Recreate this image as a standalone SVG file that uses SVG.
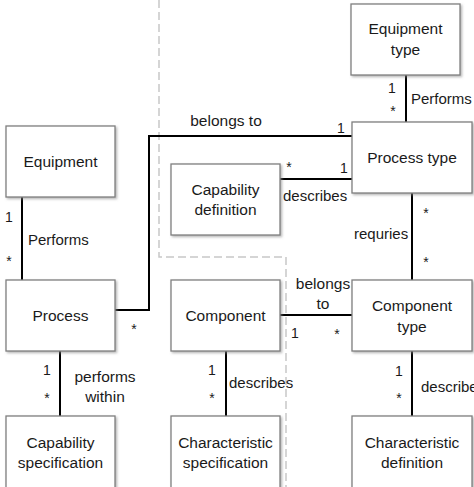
<svg xmlns="http://www.w3.org/2000/svg" width="474" height="487" viewBox="0 0 474 487">
<defs>
<filter id="sh" x="-10%" y="-10%" width="125%" height="125%">
<feDropShadow dx="1.5" dy="1.5" stdDeviation="0.8" flood-color="#888" flood-opacity="0.6"/>
</filter>
<style>
.box{fill:#fff;stroke:#7f7f7f;stroke-width:1.3;filter:url(#sh)}
.t{font-family:"Liberation Sans",Arial,sans-serif;font-size:15.5px;fill:#1a1a1a;text-anchor:middle}
.l{font-family:"Liberation Sans",Arial,sans-serif;font-size:15px;fill:#1a1a1a}
.m{font-family:"Liberation Sans",Arial,sans-serif;font-size:14px;fill:#1a1a1a;text-anchor:middle}
.c{fill:none;stroke:#000;stroke-width:2}
.d{fill:none;stroke:#c8c8c8;stroke-width:1.5;stroke-dasharray:8 4}
</style>
</defs>
<rect width="474" height="487" fill="#fff"/>
<polyline class="d" points="159,0 159,257 286,257 286,487"/>
<g id="connectors">
<line class="c" x1="22" y1="197" x2="22" y2="280"/>
<polyline class="c" points="115,310 149,310 149,136 352,136"/>
<line class="c" x1="280" y1="179" x2="352" y2="179"/>
<line class="c" x1="406" y1="75" x2="406" y2="122"/>
<line class="c" x1="412" y1="193" x2="412" y2="280"/>
<line class="c" x1="280" y1="315" x2="352" y2="315"/>
<line class="c" x1="60" y1="351" x2="60" y2="416"/>
<line class="c" x1="226" y1="351" x2="226" y2="416"/>
<line class="c" x1="412" y1="351" x2="412" y2="416"/>
<text class="l" x="28" y="245">Performs</text>
<text class="m" x="9" y="222">1</text>
<text class="m" x="9" y="266">*</text>
<text class="m" x="134" y="334">*</text>
<text class="t" x="226" y="126">belongs to</text>
<text class="m" x="341" y="133">1</text>
<text class="m" x="289" y="172">*</text>
<text class="m" x="344" y="173">1</text>
<text class="l" x="283" y="201">describes</text>
<text class="m" x="392" y="93">1</text>
<text class="m" x="393" y="116">*</text>
<text class="l" x="411" y="104">Performs</text>
<text class="m" x="426" y="218">*</text>
<text class="l" x="354" y="239">requries</text>
<text class="m" x="426" y="267">*</text>
<text class="t" x="323" y="289">belongs</text>
<text class="t" x="323" y="309">to</text>
<text class="m" x="295" y="338">1</text>
<text class="m" x="337" y="339">*</text>
<text class="m" x="47" y="375">1</text>
<text class="m" x="47" y="403">*</text>
<text class="t" x="105" y="382">performs</text>
<text class="t" x="105" y="402">within</text>
<text class="m" x="212" y="375">1</text>
<text class="m" x="212" y="403">*</text>
<text class="l" x="229" y="388">describes</text>
<text class="m" x="399" y="376">1</text>
<text class="m" x="399" y="403">*</text>
<text class="l" x="421" y="392">describes</text>
</g>
<g id="equipment"><rect class="box" x="6" y="126" width="109" height="71"/><text class="t" x="60.5" y="167">Equipment</text></g>
<g id="equipment-type"><rect class="box" x="351" y="4" width="109" height="71"/><text class="t" x="405.5" y="34">Equipment</text><text class="t" x="405.5" y="55">type</text></g>
<g id="process-type"><rect class="box" x="352" y="122" width="120" height="71"/><text class="t" x="412" y="163">Process type</text></g>
<g id="capability-definition"><rect class="box" x="171" y="164" width="109" height="71"/><text class="t" x="225.5" y="195">Capability</text><text class="t" x="225.5" y="215">definition</text></g>
<g id="process"><rect class="box" x="6" y="280" width="109" height="71"/><text class="t" x="60.5" y="321">Process</text></g>
<g id="component"><rect class="box" x="171" y="280" width="109" height="71"/><text class="t" x="225.5" y="321">Component</text></g>
<g id="component-type"><rect class="box" x="352" y="280" width="120" height="71"/><text class="t" x="412" y="311">Component</text><text class="t" x="412" y="332">type</text></g>
<g id="capability-specification"><rect class="box" x="6" y="416" width="109" height="80"/><text class="t" x="60.5" y="448">Capability</text><text class="t" x="60.5" y="468">specification</text></g>
<g id="characteristic-specification"><rect class="box" x="171" y="416" width="109" height="80"/><text class="t" x="225.5" y="448">Characteristic</text><text class="t" x="225.5" y="468">specification</text></g>
<g id="characteristic-definition"><rect class="box" x="352" y="416" width="120" height="80"/><text class="t" x="412" y="448">Characteristic</text><text class="t" x="412" y="468">definition</text></g>
</svg>
